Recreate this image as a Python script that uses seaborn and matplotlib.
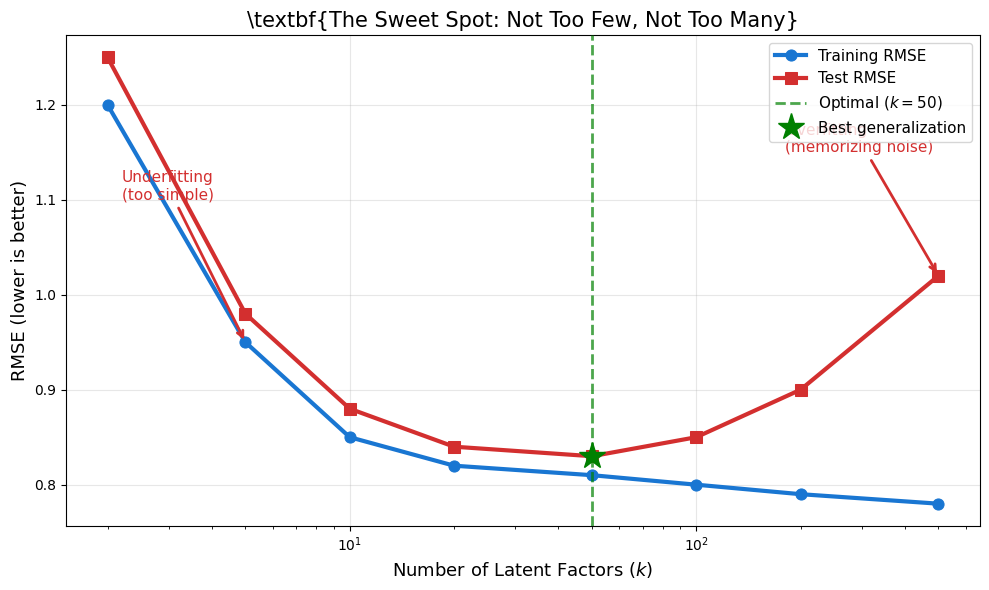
import matplotlib
matplotlib.use("Agg")
import matplotlib.pyplot as plt
import seaborn as sns
import pandas as pd

k_values = [2, 5, 10, 20, 50, 100, 200, 500]
train_rmse = [1.20, 0.95, 0.85, 0.82, 0.81, 0.80, 0.79, 0.78]
test_rmse = [1.25, 0.98, 0.88, 0.84, 0.83, 0.85, 0.90, 1.02]
optimal_k = 50
best_test = 0.83

df = pd.DataFrame({"k": k_values, "train": train_rmse, "test": test_rmse})

fig, ax = plt.subplots(figsize=(9.89, 5.9), dpi=100)
sns.lineplot(data=df, x="k", y="train", ax=ax, color="#1976D2", marker="o",
             markersize=8, linewidth=3, markeredgecolor="#1976D2", label="Training RMSE")
sns.lineplot(data=df, x="k", y="test", ax=ax, color="#D32F2F", marker="s",
             markersize=8, linewidth=3, markeredgecolor="#D32F2F", label="Test RMSE")
ax.axvline(optimal_k, color="green", linestyle="--", linewidth=2, alpha=0.7,
           label=r"Optimal ($k=50$)", zorder=6)
ax.plot([optimal_k], [best_test], marker="*", color="green", markersize=20,
        linestyle="none", label="Best generalization", zorder=5)
ax.set_xscale("log")

ax.annotate("Underfitting\n(too simple)", xy=(5, 0.95), xytext=(2.2, 1.1),
            fontsize=11, color="#D32F2F",
            arrowprops=dict(arrowstyle="->", color="#D32F2F", lw=2))
ax.annotate("Overfitting\n(memorizing noise)", xy=(500, 1.02), xytext=(180, 1.15),
            fontsize=11, color="#D32F2F",
            arrowprops=dict(arrowstyle="->", color="#D32F2F", lw=2))

ax.set_xlabel(r"Number of Latent Factors ($k$)", fontsize=13)
ax.set_ylabel("RMSE (lower is better)", fontsize=13)
ax.set_title(r"\textbf{The Sweet Spot: Not Too Few, Not Too Many}", fontsize=15)
ax.grid(True, alpha=0.3)
ax.legend(loc="upper right", fontsize=11)
fig.subplots_adjust(left=66/989, right=980/989, top=1-35/590, bottom=1-526/590)
fig.savefig("out.png", dpi=100)
